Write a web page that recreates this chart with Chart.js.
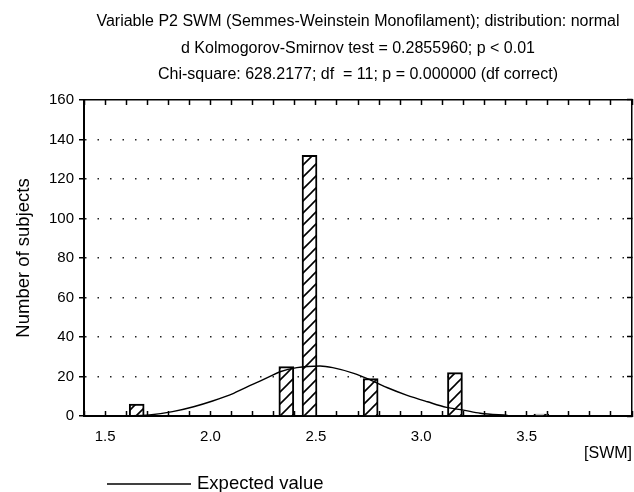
<!DOCTYPE html>
<html>
<head>
<meta charset="utf-8">
<script src="https://cdn.jsdelivr.net/npm/chart.js@4.4.1/dist/chart.umd.min.js"></script>
<style>
  html, body { margin: 0; padding: 0; background: #fff; }
</style>
</head>
<body>
<canvas id="histogram" width="634" height="492"></canvas>
<script>
// values
const titleLines = [
  'Variable P2 SWM (Semmes-Weinstein Monofilament); distribution: normal',
  'd Kolmogorov-Smirnov test = 0.2855960; p < 0.01',
  'Chi-square: 628.2177; df  = 11; p = 0.000000 (df correct)'
];
const swmValues = [1.65, 2.36, 2.47, 2.76, 3.16, 3.57];
const subjectCounts = [6, 25, 132, 19, 22, 1];
const expectedX = [1.59, 1.71, 1.82, 1.92, 2.01, 2.11, 2.20, 2.28, 2.33, 2.41, 2.52, 2.58, 2.68, 2.76, 2.84, 2.93, 3.03, 3.12, 3.20, 3.28, 3.41];
const expectedY = [0, 0.5, 2.2, 4.7, 7.6, 11.5, 16, 19.9, 22.4, 24.5, 25.3, 24.5, 21.6, 18.2, 14.3, 10.6, 7.2, 4.4, 3.0, 1.4, 0.3];
const xTickLabels = ['1.5', '2.0', '2.5', '3.0', '3.5'];
const xRange = [1.4, 4.0];
const yRange = [0, 160];

const FONT = '"Liberation Sans", Arial, sans-serif';
Chart.defaults.color = '#000';
Chart.defaults.font.family = FONT;

const canvas = document.getElementById('histogram');
const ctx = canvas.getContext('2d');

function makeHatch() {
  const c = document.createElement('canvas');
  c.width = 12; c.height = 12;
  const g = c.getContext('2d');
  g.fillStyle = '#fff';
  g.fillRect(0, 0, 12, 12);
  g.strokeStyle = '#000';
  g.lineWidth = 1.6;
  g.beginPath();
  g.moveTo(0, 12); g.lineTo(12, 0);
  g.moveTo(-3, 3); g.lineTo(3, -3);
  g.moveTo(9, 15); g.lineTo(15, 9);
  g.stroke();
  return ctx.createPattern(c, 'repeat');
}

// legend drawn under the x axis, line sample + label
const lineLegend = {
  id: 'lineLegend',
  afterDraw(chart) {
    const ds = chart.data.datasets[1];
    const c = chart.ctx;
    c.save();
    c.strokeStyle = ds.borderColor;
    c.lineWidth = 1.3;
    c.beginPath();
    c.moveTo(107, 484);
    c.lineTo(191, 484);
    c.stroke();
    c.fillStyle = '#000';
    c.font = '18.5px ' + FONT;
    c.textBaseline = 'middle';
    c.fillText(ds.label, 197, 484);
    c.restore();
  }
};

// inward tick marks must not reserve side padding
const noSidePadding = (s) => { s.paddingLeft = 0; s.paddingRight = 0; };

const barPoints = swmValues.map((x, i) => ({ x, y: subjectCounts[i] }));
const curvePoints = expectedX.map((x, i) => ({ x, y: expectedY[i] }));

new Chart(ctx, {
  type: 'bar',
  data: {
    datasets: [{
      type: 'bar',
      label: 'Observed',
      data: barPoints,
      backgroundColor: makeHatch(),
      borderColor: '#000',
      borderWidth: 2,
      barThickness: 15,
      xAxisID: 'x',
      yAxisID: 'y',
      order: 2
    }, {
      type: 'line',
      label: 'Expected value',
      data: curvePoints,
      borderColor: '#000',
      borderWidth: 1.4,
      pointRadius: 0,
      cubicInterpolationMode: 'monotone',
      fill: false,
      xAxisID: 'x',
      yAxisID: 'y',
      order: 1
    }]
  },
  options: {
    responsive: false,
    animation: false,
    layout: { padding: { left: 0, right: 2, top: 0, bottom: 26 } },
    plugins: {
      legend: { display: false },
      tooltip: { enabled: false },
      title: {
        display: true,
        text: titleLines,
        fullSize: false,
        font: { size: 16, weight: 'normal', lineHeight: 1.656 },
        padding: { top: 8.75, bottom: 11.75 },
        color: '#000'
      }
    },
    scales: {
      x: {
        type: 'linear',
        position: 'bottom',
        offset: false,
        min: xRange[0],
        max: xRange[1],
        grid: { offset: false, drawOnChartArea: false, tickLength: -5, tickColor: '#000', tickWidth: 1.5 },
        border: { color: '#000', width: 2 },
        ticks: {
          stepSize: 0.1,
          autoSkip: false,
          maxRotation: 0,
          padding: 17,
          font: { size: 15 },
          callback: (v) => {
            const s = Number(v).toFixed(1);
            return xTickLabels.includes(s) ? s : '';
          }
        },
        title: {
          display: true,
          text: '[SWM]',
          align: 'end',
          font: { size: 16 },
          padding: { top: 0, bottom: 2.4 }
        },
        afterFit: (s) => { s.height = 50; noSidePadding(s); }
      },
      xTop: {
        type: 'linear',
        position: 'top',
        offset: false,
        min: xRange[0],
        max: xRange[1],
        grid: { offset: false, drawOnChartArea: false, tickLength: -5, tickColor: '#000', tickWidth: 1.5 },
        border: { color: '#000', width: 1.5 },
        ticks: { display: false, stepSize: 0.1, autoSkip: false },
        afterFit: (s) => { s.height = 0; noSidePadding(s); }
      },
      y: {
        type: 'linear',
        position: 'left',
        min: yRange[0],
        max: yRange[1],
        grid: {
          color: (c) => (c.tick && (c.tick.value === yRange[0] || c.tick.value === yRange[1])) ? 'rgba(0,0,0,0)' : '#222',
          lineWidth: 1.5,
          tickLength: 5,
          tickColor: '#000',
          tickWidth: 1.5
        },
        border: { color: '#000', width: 2, dash: [1.5, 11] },
        ticks: { stepSize: 20, padding: 5, font: { size: 15 } },
        title: {
          display: true,
          text: 'Number of subjects',
          font: { size: 18.5 },
          padding: { top: 13, bottom: 0 }
        },
        afterFit: (s) => { s.width = 84; }
      },
      yRight: {
        type: 'linear',
        position: 'right',
        min: yRange[0],
        max: yRange[1],
        grid: { drawOnChartArea: false, tickLength: -5, tickColor: '#000', tickWidth: 1.5 },
        border: { color: '#000', width: 1.5 },
        ticks: { display: false, stepSize: 20 },
        afterFit: (s) => { s.width = 0; }
      }
    }
  },
  plugins: [lineLegend]
});
</script>
</body>
</html>
